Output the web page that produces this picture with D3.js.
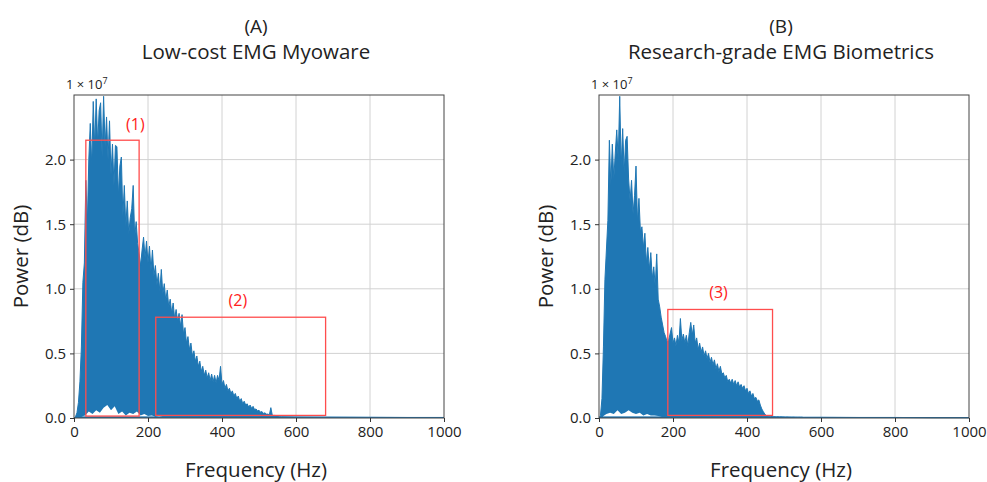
<!DOCTYPE html>
<meta charset="utf-8">
<style type="text/css">
	body { margin: 0; background: #fff; }
	.chart text { font-family: "Open Sans", "Noto Sans", sans-serif; fill: #222; }
	.grid line { stroke: #d2d2d2; stroke-width: 1; }
	.axis path, .axis line { stroke: #333; }
	.axis text { font-size: 15px; }
	.frame { fill: none; stroke: #444; stroke-width: 1; }
	.spec-area { fill: #1f77b4; }
	.spec-line { fill: none; stroke: #1f77b4; stroke-width: 1; }
	.hole { fill: #fff; }
	.box { fill: none; stroke: #ff4d4d; stroke-width: 1.3; }
	.box-label { fill: #ff2020 !important; font-size: 16px; text-anchor: middle; }
</style>
<div class="chart"></div>
<script src="https://cdnjs.cloudflare.com/ajax/libs/d3/7.8.5/d3.min.js"></script>
<script>

	// ---- //
	// Data //
	// ---- //

	// spectrum sampled every 4 Hz from 0 to 560 Hz, power in units of 1e7
	const freqStep = 4;
	const powerA = [
		0.00, 0.01, 0.04, 0.12, 0.28, 0.55, 1.05, 1.20, 1.84, 1.50,
		2.00, 2.28, 1.95, 2.45, 2.10, 2.47, 2.12, 2.38, 2.44, 2.02,
		2.49, 2.10, 2.33, 2.00, 2.30, 1.88, 2.12, 1.80, 2.11, 2.10,
		1.72, 1.95, 2.02, 1.56, 1.80, 1.48, 1.68, 1.42, 1.55, 1.62,
		1.80, 1.40, 1.52, 1.35, 1.27, 1.18, 1.30, 1.40, 1.24, 1.37,
		1.20, 1.33, 1.14, 1.30, 1.10, 1.18, 1.03, 1.12, 0.98, 1.15,
		0.96, 1.04, 0.91, 0.99, 0.86, 0.92, 0.81, 0.89, 0.77, 0.84,
		0.75, 0.81, 0.71, 0.80, 0.65, 0.70, 0.58, 0.63, 0.53, 0.58,
		0.48, 0.52, 0.44, 0.48, 0.40, 0.44, 0.36, 0.40, 0.33, 0.37,
		0.31, 0.35, 0.29, 0.34, 0.28, 0.33, 0.27, 0.33, 0.29, 0.40,
		0.26, 0.29, 0.23, 0.26, 0.21, 0.23, 0.19, 0.21, 0.17, 0.19,
		0.15, 0.17, 0.13, 0.15, 0.11, 0.13, 0.10, 0.11, 0.085, 0.10,
		0.075, 0.09, 0.065, 0.07, 0.055, 0.06, 0.045, 0.05, 0.035, 0.04,
		0.03, 0.03, 0.025, 0.08, 0.02, 0.02, 0.02, 0.015, 0.015, 0.01,
		0.01
	];
	const powerB = [
		0.00, 0.02, 0.15, 0.55, 1.07, 1.30, 1.53, 2.15, 1.80, 2.12,
		1.85, 2.05, 2.23, 2.00, 2.49, 1.95, 2.24, 1.90, 2.15, 2.18,
		1.85, 1.68, 1.84, 1.58, 1.72, 1.95, 1.52, 1.70, 1.44, 1.48,
		1.32, 1.43, 1.20, 1.32, 1.15, 1.28, 1.08, 1.17, 1.02, 1.27,
		0.92, 0.86, 0.78, 0.72, 0.66, 0.63, 0.59, 0.60, 0.65, 0.70,
		0.58, 0.62, 0.56, 0.64, 0.58, 0.77, 0.60, 0.65, 0.58, 0.64,
		0.56, 0.66, 0.74, 0.64, 0.72, 0.58, 0.62, 0.53, 0.58, 0.51,
		0.55, 0.48, 0.52, 0.46, 0.50, 0.43, 0.47, 0.41, 0.45, 0.38,
		0.42, 0.36, 0.40, 0.34, 0.35, 0.31, 0.33, 0.28, 0.30, 0.27,
		0.30, 0.26, 0.29, 0.25, 0.28, 0.24, 0.26, 0.23, 0.25, 0.21,
		0.23, 0.19, 0.21, 0.17, 0.19, 0.15, 0.16, 0.13, 0.14, 0.10,
		0.07, 0.05, 0.03, 0.02, 0.015, 0.012, 0.012, 0.011, 0.011, 0.010,
		0.010, 0.010, 0.009, 0.009, 0.009, 0.008, 0.008, 0.008, 0.008, 0.007,
		0.007, 0.007, 0.007, 0.006, 0.006, 0.006, 0.006, 0.006, 0.005, 0.005,
		0.005
	];

	// low-level tail beyond 560 Hz
	const tailFreq = [600, 700, 800, 900, 1000];
	const tailA = [0.008, 0.006, 0.005, 0.004, 0.004];
	const tailB = [0.005, 0.004, 0.004, 0.003, 0.003];

	// lower envelope of the oscillation (white gaps near zero), every 10 Hz
	const lowerStep = 10;
	const lowerA = [0, 0.005, 0.01, 0.02, 0.05, 0.03, 0.06, 0.04, 0.08, 0.10,
		0.06, 0.09, 0.03, 0.05, 0.02, 0.04, 0.03, 0.05, 0.02, 0.03,
		0.015, 0.02, 0.01, 0.015, 0.01, 0.005];
	const lowerB = [0, 0.01, 0.03, 0.04, 0.03, 0.06, 0.03, 0.04, 0.06, 0.04,
		0.03, 0.04, 0.02, 0.03, 0.02, 0.02, 0.015, 0.01, 0.01, 0.008, 0.005];

	// highlighted regions: [f0, f1, p0, p1] and label anchor [f, p]
	const boxNames = ["(1)", "(2)", "(3)"];
	const boxRegions = [[32, 176, 0.015, 2.15], [221, 680, 0.02, 0.78], [186, 469, 0.02, 0.84]];
	const boxAnchors = [[166, 2.27], [443, 0.91], [323, 0.97]];

	const xTicks = [0, 200, 400, 600, 800, 1000];
	const yTicks = [0.0, 0.5, 1.0, 1.5, 2.0];
	const panelTags = ["(A)", "(B)"];
	const panelTitles = ["Low-cost EMG Myoware", "Research-grade EMG Biometrics"];

	// ----- //
	// Setup //
	// ----- //

	let svg = d3.select(".chart").append("svg")
		.attr("width", 987)
		.attr("height", 482);

	svg.append("rect").attr("width", 987).attr("height", 482).attr("fill", "#fff");

	function toPoints(values, tail) {
		let pts = values.map((v, i) => ({ f: i * freqStep, p: v }));
		return pts.concat(tailFreq.map((f, i) => ({ f: f, p: tail[i] })));
	}

	function drawPanel(idx, left, top, values, tail, lower, boxIdx) {
		let width = 370, height = 323;
		let g = svg.append("g").attr("transform", "translate(" + left + "," + top + ")");

		let x = d3.scaleLinear().domain([0, 1000]).range([0, width]);
		let y = d3.scaleLinear().domain([0, 2.5]).range([height, 0]);

		// grid
		let grid = g.append("g").attr("class", "grid");
		grid.selectAll(".gx").data(xTicks.slice(1, -1)).enter().append("line")
			.attr("x1", d => x(d)).attr("x2", d => x(d))
			.attr("y1", 0).attr("y2", height);
		grid.selectAll(".gy").data(yTicks.slice(1)).enter().append("line")
			.attr("x1", 0).attr("x2", width)
			.attr("y1", d => y(d)).attr("y2", d => y(d));

		// clip
		g.append("clipPath").attr("id", "clip" + idx)
			.append("rect").attr("width", width).attr("height", height + 1);

		let data = toPoints(values, tail);
		let plot = g.append("g").attr("clip-path", "url(#clip" + idx + ")");

		let area = d3.area().x(d => x(d.f)).y0(y(0)).y1(d => y(d.p));
		plot.append("path").datum(data).attr("class", "spec-area").attr("d", area);
		plot.append("path").datum(data).attr("class", "spec-line")
			.attr("d", d3.line().x(d => x(d.f)).y(d => y(d.p)));

		// white gaps near the floor
		let holes = lower.map((v, i) => ({ f: i * lowerStep, p: v }));
		plot.append("path").datum(holes).attr("class", "hole")
			.attr("d", d3.area().x(d => x(d.f)).y0(y(0.012)).y1(d => y(Math.max(d.p, 0.012))));

		// floor line
		plot.append("path").datum(data)
			.attr("class", "spec-line").attr("stroke-width", 1.5)
			.attr("d", d3.line().x(d => x(d.f)).y(d => y(Math.min(d.p, 0.006))));

		// boxes
		boxIdx.forEach(b => {
			let r = boxRegions[b];
			g.append("rect").attr("class", "box")
				.attr("x", x(r[0])).attr("y", y(r[3]))
				.attr("width", x(r[1]) - x(r[0]))
				.attr("height", y(r[2]) - y(r[3]));
			g.append("text").attr("class", "box-label")
				.attr("x", x(boxAnchors[b][0]))
				.attr("y", y(boxAnchors[b][1]))
				.attr("dy", "0.35em")
				.text(boxNames[b]);
		});

		// frame
		g.append("rect").attr("class", "frame").attr("width", width).attr("height", height);

		// axes
		g.append("g").attr("class", "axis")
			.attr("transform", "translate(0," + height + ")")
			.call(d3.axisBottom(x).tickValues(xTicks).tickSize(4).tickPadding(4).tickFormat(d3.format("d")))
			.call(a => a.select(".domain").remove());
		g.append("g").attr("class", "axis")
			.call(d3.axisLeft(y).tickValues(yTicks).tickSize(4).tickPadding(4).tickFormat(d3.format(".1f")))
			.call(a => a.select(".domain").remove());

		// exponent
		let ex = g.append("text").attr("x", -8).attr("y", -6).style("font-size", "13px");
		ex.append("tspan").text("1 \u00d7 10");
		ex.append("tspan").attr("dy", -5).style("font-size", "9px").text("7");

		// labels
		let cx = width / 2 - 3;
		g.append("text").attr("x", cx).attr("y", height + 59)
			.style("text-anchor", "middle").style("font-size", "20.5px")
			.text("Frequency (Hz)");
		g.append("text").attr("transform", "rotate(-90)")
			.attr("x", -height / 2).attr("y", -46)
			.style("text-anchor", "middle").style("font-size", "20.5px")
			.text("Power (dB)");
		g.append("text").attr("x", cx).attr("y", -62)
			.style("text-anchor", "middle").style("font-size", "19px")
			.text(panelTags[idx]);
		g.append("text").attr("x", cx).attr("y", -36)
			.style("text-anchor", "middle").style("font-size", "20.5px")
			.text(panelTitles[idx]);
	}

	drawPanel(0, 74, 95, powerA, tailA, lowerA, [0, 1]);
	drawPanel(1, 599, 95, powerB, tailB, lowerB, [2]);
</script>
